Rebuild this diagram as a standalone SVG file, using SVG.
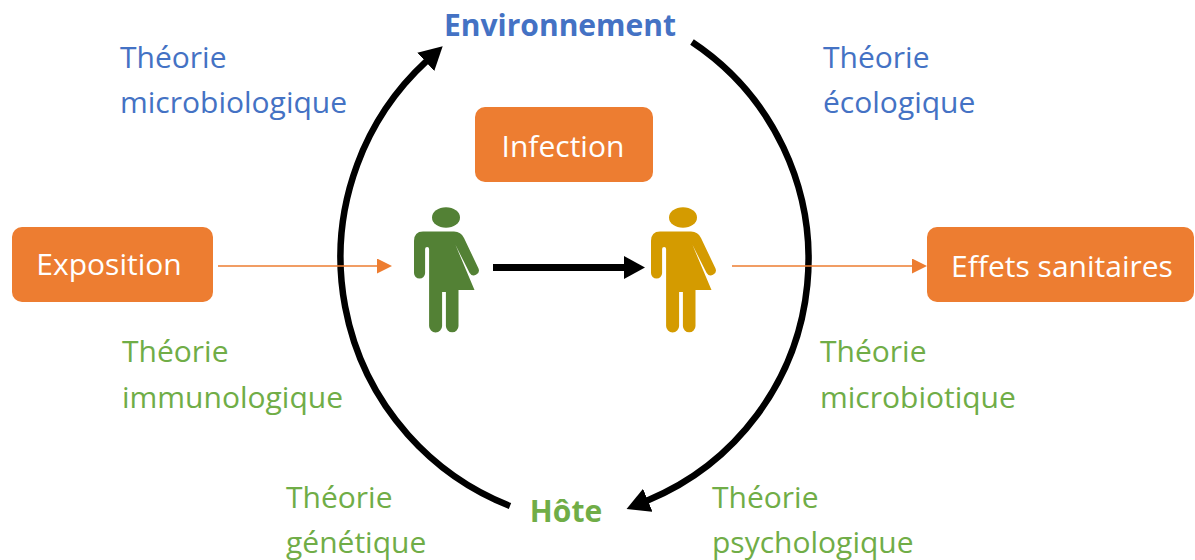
<svg xmlns="http://www.w3.org/2000/svg" xmlns:xlink="http://www.w3.org/1999/xlink" width="1195" height="560" viewBox="0 0 1195 560">
<style>
text{font-family:"Open Sans","Liberation Sans",sans-serif;font-size:30px}
.blue{fill:#4472C4}
.green{fill:#70AD47}
.title{font-weight:bold}
.box{fill:#ED7D31}
.boxtxt{fill:#FFFFFF;text-anchor:middle}
.cycle{fill:none;stroke:#000;stroke-width:6.5}
.thin{fill:none;stroke:#ED7D31;stroke-width:1.5}
</style>
<defs>
<marker id="bigHead" markerUnits="userSpaceOnUse" markerWidth="23" markerHeight="25" viewBox="0 0 23 25" refX="1" refY="12.5" orient="auto">
<path d="M0,0 L23,12.5 L0,25 Z" fill="#000"/>
</marker>
<marker id="midHead" markerUnits="userSpaceOnUse" markerWidth="21" markerHeight="23" viewBox="0 0 21 23" refX="1" refY="11.5" orient="auto">
<path d="M0,0 L21,11.5 L0,23 Z" fill="#000"/>
</marker>
<marker id="orangeHead" markerUnits="userSpaceOnUse" markerWidth="15" markerHeight="15" viewBox="0 0 15 15" refX="1" refY="7.5" orient="auto">
<path d="M0,0 L15,7.5 L0,15 Z" fill="#ED7D31"/>
</marker>
<g id="personShape">
<ellipse cx="446" cy="217.5" rx="14" ry="10.3"/>
<path d="M414,241 Q414,231.5 423,231.5 L454,231.5 Q461,231.5 464,238 L478.5,268.5 A5 5 0 0 1 469.5,272.8 L455.5,245 L474.5,290 L458.5,290 L458.5,326 A6.3 6.3 0 0 1 445.9,326 L445.9,292 L442.1,292 L442.1,326 A6.5 6.5 0 0 1 429.1,326 L429.1,249 A2 2 0 0 0 425.1,249 L425.1,273 A5.55 5.55 0 0 1 414,273 Z"/>
</g>
</defs>
<rect width="1195" height="560" fill="#FFFFFF"/>

<g id="connectors">
<path class="cycle" d="M510,506 A267 267 0 0 1 426.5,61.2" marker-end="url(#bigHead)"/>
<path class="cycle" d="M692,42 A261 261 0 0 1 646.9,500.7" marker-end="url(#bigHead)"/>
<line x1="493" y1="267.5" x2="625" y2="267.5" stroke="#000" stroke-width="7" marker-end="url(#midHead)"/>
<line class="thin" x1="218" y1="266" x2="378" y2="266" marker-end="url(#orangeHead)"/>
<line class="thin" x1="732" y1="266" x2="913" y2="266" marker-end="url(#orangeHead)"/>
</g>

<g id="environnement"><text class="blue title" x="560" y="36" text-anchor="middle">Environnement</text></g>
<g id="hote"><text class="green title" x="566" y="522" text-anchor="middle">Hôte</text></g>

<g id="infection">
<rect class="box" x="475" y="107" width="178" height="75" rx="10"/>
<text class="boxtxt" x="563" y="157">Infection</text>
</g>
<g id="exposition">
<rect class="box" x="12" y="227" width="201" height="75" rx="10"/>
<text class="boxtxt" x="109" y="275">Exposition</text>
</g>
<g id="effets">
<rect class="box" x="927" y="227" width="267" height="75" rx="10"/>
<text class="boxtxt" x="1062" y="277">Effets sanitaires</text>
</g>

<g id="person1" fill="#538135"><use xlink:href="#personShape"/></g>
<g id="person2" fill="#D49B00"><use xlink:href="#personShape" transform="translate(237,0)"/></g>

<g id="theorie-microbiologique" class="blue">
<text class="blue" x="120" y="68">Théorie</text>
<text class="blue" x="120" y="113">microbiologique</text>
</g>
<g id="theorie-ecologique">
<text class="blue" x="823" y="68">Théorie</text>
<text class="blue" x="823" y="113">écologique</text>
</g>
<g id="theorie-immunologique">
<text class="green" x="122" y="362">Théorie</text>
<text class="green" x="122" y="408">immunologique</text>
</g>
<g id="theorie-microbiotique">
<text class="green" x="820" y="362">Théorie</text>
<text class="green" x="820" y="408">microbiotique</text>
</g>
<g id="theorie-genetique">
<text class="green" x="286" y="508">Théorie</text>
<text class="green" x="286" y="553">génétique</text>
</g>
<g id="theorie-psychologique">
<text class="green" x="712" y="508">Théorie</text>
<text class="green" x="712" y="553">psychologique</text>
</g>
</svg>
